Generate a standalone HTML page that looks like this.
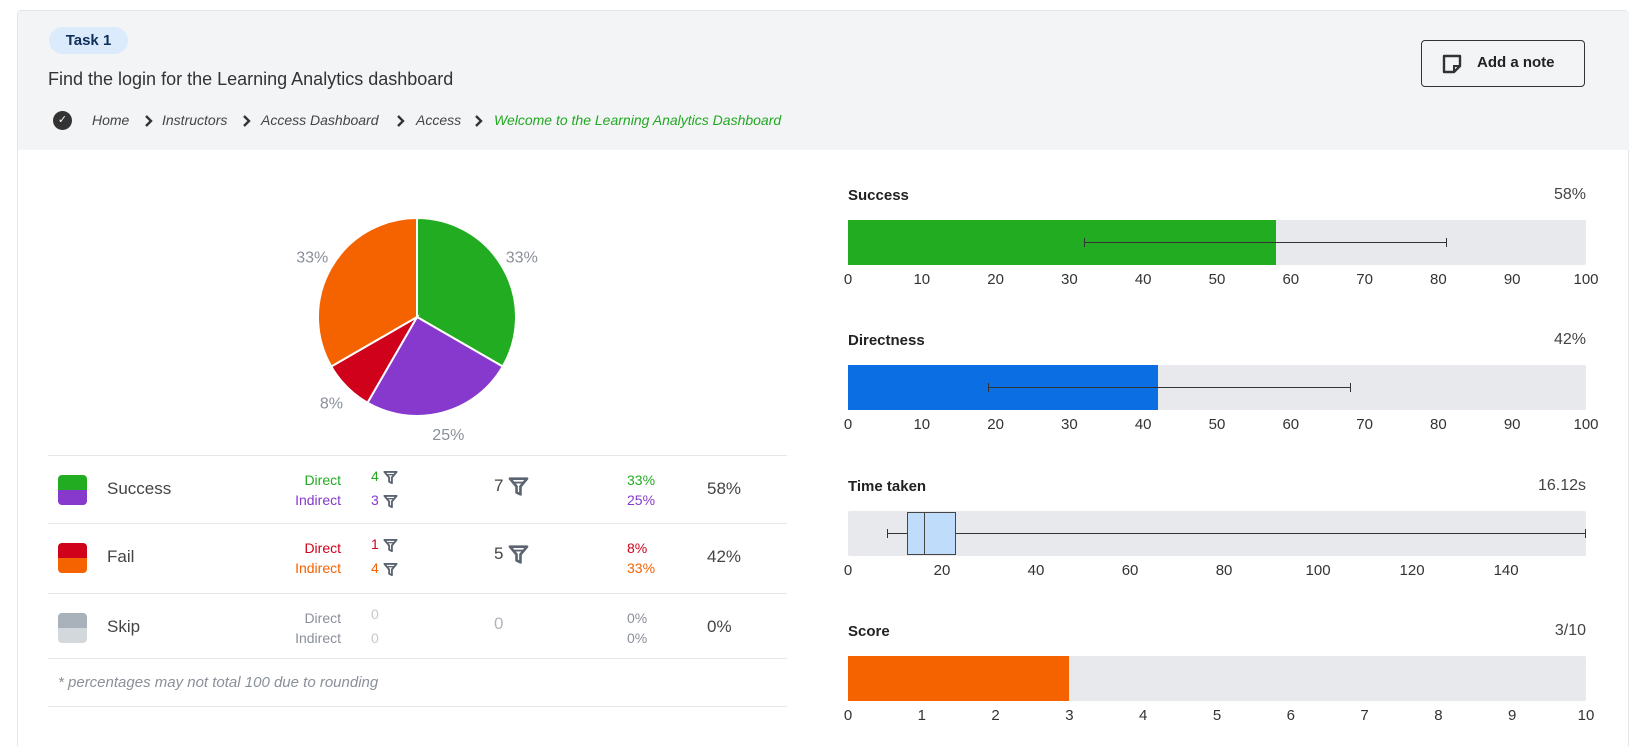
<!DOCTYPE html>
<html style="overflow:hidden;height:746px"><head><meta charset="utf-8"><style>
body{margin:0;width:1630px;height:746px;background:#fff;font-family:"Liberation Sans",sans-serif;color:#333;position:relative;overflow:hidden}
.abs{position:absolute}
#panel{left:17px;top:10px;width:1612px;height:736px;border:1px solid #e3e5e8;border-bottom:none;border-radius:4px 4px 0 0;box-sizing:border-box}
#hdr{left:18px;top:11px;width:1611px;height:139px;background:#f3f4f6}
.t{position:absolute;white-space:nowrap}
.bc{font-style:italic;font-size:14px;color:#444;top:112px}
.chev{top:114px}
.lbl{font-size:15px;font-weight:bold;color:#222}
.val{font-size:16px;color:#444}
.tick{font-size:15px;color:#333;transform:translateX(-50%)}
.line{position:absolute;left:48px;width:739px;height:1px;background:#e6e7ea}
.sm{font-size:14px}
</style></head><body>
<div class="abs" id="panel"></div>
<div class="abs" id="hdr"></div>
<div class="abs" style="left:49px;top:27px;width:79px;height:27px;border-radius:14px;background:#dcebfb;color:#0e2f5a;font-size:15px;font-weight:bold;line-height:27px;text-align:center">Task 1</div>
<div class="t" style="left:48px;top:69px;font-size:18px;color:#333">Find the login for the Learning Analytics dashboard</div>
<div class="abs" style="left:53px;top:111px;width:19px;height:19px;border-radius:50%;background:#333;color:#fff;font-size:11px;text-align:center;line-height:19px">✓</div>
<div class="t bc" style="left:92px">Home</div>
<svg class="abs chev" style="left:143px" width="10" height="14"><path d="M3 2l5 5-5 5" fill="none" stroke="#333" stroke-width="2.4"/></svg>
<div class="t bc" style="left:162px">Instructors</div>
<svg class="abs chev" style="left:241px" width="10" height="14"><path d="M3 2l5 5-5 5" fill="none" stroke="#333" stroke-width="2.4"/></svg>
<div class="t bc" style="left:261px">Access Dashboard</div>
<svg class="abs chev" style="left:395px" width="10" height="14"><path d="M3 2l5 5-5 5" fill="none" stroke="#333" stroke-width="2.4"/></svg>
<div class="t bc" style="left:416px">Access</div>
<svg class="abs chev" style="left:473px" width="10" height="14"><path d="M3 2l5 5-5 5" fill="none" stroke="#333" stroke-width="2.4"/></svg>
<div class="t bc" style="left:494px;color:#22a822">Welcome to the Learning Analytics Dashboard</div>
<div class="abs" style="left:1421px;top:40px;width:164px;height:47px;border:1px solid #333;border-radius:4px;box-sizing:border-box">
 <svg class="abs" style="left:20px;top:13px" width="20" height="20"><path d="M2 2h16v10l-6 6H2z" fill="none" stroke="#333" stroke-width="2.4" stroke-linejoin="round"/><path d="M12 18v-6h6" fill="none" stroke="#333" stroke-width="2"/></svg>
 <div class="t" style="left:55px;top:13px;font-size:15px;font-weight:bold;color:#222">Add a note</div>
</div>

<svg class="abs" id="pie" style="left:280px;top:195px" width="280" height="260"></svg>

<div class="line" style="top:455px"></div><div class="line" style="top:523px"></div><div class="line" style="top:593px"></div><div class="line" style="top:658px"></div><div class="line" style="top:706px"></div>
<div id="table"></div>
<div class="t" style="left:58px;top:674px;font-size:15px;font-style:italic;color:#8a9099">* percentages may not total 100 due to rounding</div>
<div id="metrics"></div>

<script>
// ---- pie data ----
const pieLabels=["Direct success","Indirect success","Direct fail","Indirect fail"];
const pieValues=[4,3,1,4];
const pieColors=["#22ac22","#8639cc","#d0021b","#f56200"];
const pieText=["33%","25%","8%","33%"];
const NS="http://www.w3.org/2000/svg";
(function(){
 const svg=document.getElementById('pie');const cx=137,cy=122,r=99;
 const tot=pieValues.reduce((a,b)=>a+b,0);let a0=-Math.PI/2;
 pieValues.forEach((v,i)=>{
  const a1=a0+v/tot*2*Math.PI;
  const p=document.createElementNS(NS,'path');
  const x0=cx+r*Math.cos(a0),y0=cy+r*Math.sin(a0),x1=cx+r*Math.cos(a1),y1=cy+r*Math.sin(a1);
  p.setAttribute('d',`M${cx},${cy}L${x0},${y0}A${r},${r} 0 ${a1-a0>Math.PI?1:0} 1 ${x1},${y1}Z`);
  p.setAttribute('fill',pieColors[i]);p.setAttribute('stroke','#fff');p.setAttribute('stroke-width','2');
  
  
  svg.appendChild(p);
  const am=(a0+a1)/2,lr=r+22;
  const t=document.createElementNS(NS,'text');
  t.setAttribute('x',cx+lr*Math.cos(am));t.setAttribute('y',cy+lr*Math.sin(am)+6);
  t.setAttribute('text-anchor','middle');t.setAttribute('font-size','16');t.setAttribute('fill','#8a9099');
  t.setAttribute('font-family','Liberation Sans');t.textContent=pieText[i];
  
  
  svg.appendChild(t);a0=a1;
 });
})();

// ---- table ----
const rowNames=["Success","Fail","Skip"];
const directCounts=[4,1,0], indirectCounts=[3,4,0];
const totals=[7,5,0];
const directPct=["33%","8%","0%"], indirectPct=["25%","33%","0%"], totalPct=["58%","42%","0%"];
const rowColors=[["#22ac22","#8639cc"],["#d0021b","#f56200"],["#a9b1ba","#d3d8dd"]];
const funnel=(s)=>`<svg width="${s}" height="${s}" viewBox="0 0 16 16" style="vertical-align:middle"><path d="M1.5 2h13l-5 6v6l-3-1.5V8z" fill="none" stroke="#5b6470" stroke-width="2" stroke-linejoin="round"/><path d="M4 5h8" stroke="#5b6470" stroke-width="1.4"/></svg>`;
(function(){
 const tb=document.getElementById('table');const tops=[455,523,593];let h='';
 rowNames.forEach((n,i)=>{
  const y=tops[i];const c=rowColors[i];const skip=i==2;
  const dc=skip?'#8a9099':c[0], ic=skip?'#8a9099':c[1];
  h+=`<div class="abs" style="left:58px;top:${y+20}px;width:29px;height:30px;border-radius:4px;overflow:hidden"><div style="height:15px;background:${c[0]}"></div><div style="height:15px;background:${c[1]}"></div></div>`;
  h+=`<div class="t" style="left:107px;top:${y+24}px;font-size:17px;color:#444">${n}</div>`;
  h+=`<div class="t sm" style="right:1289px;top:${y+17}px;color:${dc}">Direct</div>`;
  h+=`<div class="t sm" style="right:1289px;top:${y+37}px;color:${ic}">Indirect</div>`;
  h+=`<div class="t sm" style="left:371px;top:${y+13}px;color:${skip?'#c4c9ce':c[0]}">${directCounts[i]} ${skip?'':funnel(15)}</div>`;
  h+=`<div class="t sm" style="left:371px;top:${y+37}px;color:${skip?'#c4c9ce':c[1]}">${indirectCounts[i]} ${skip?'':funnel(15)}</div>`;
  h+=`<div class="t" style="left:494px;top:${y+21}px;font-size:17px;color:${skip?'#b0b5bb':'#444'}">${totals[i]} ${skip?'':funnel(21)}</div>`;
  h+=`<div class="t sm" style="left:627px;top:${y+17}px;color:${dc}">${directPct[i]}</div>`;
  h+=`<div class="t sm" style="left:627px;top:${y+37}px;color:${ic}">${indirectPct[i]}</div>`;
  h+=`<div class="t" style="left:707px;top:${y+24}px;font-size:17px;color:#444">${totalPct[i]}</div>`;
 });
 tb.innerHTML=h;
})();

// ---- metric bars ----
const metricNames=["Success","Directness","Time taken","Score"];
const metricValues=["58%","42%","16.12s","3/10"];
const successBar=[58], successErr=[32,81];
const directBar=[42], directErr=[19,68];
const timeBox=[8.3,12.6,16.1,23,157]; // min q1 median q3 max
const scoreBar=[3];
const pctTicks=[0,10,20,30,40,50,60,70,80,90,100];
const timeTicks=[0,20,40,60,80,100,120,140];
const scoreTicks=[0,1,2,3,4,5,6,7,8,9,10];
(function(){
 const m=document.getElementById('metrics');const L=848,R=1586,W=R-L;
 const tops=[195,340,486,631];let h='';
 const sx=(v,max)=>L+v/max*W;
 function header(i){
  h+=`<div class="t lbl" style="left:848px;top:${tops[i]-8}px">${metricNames[i]}</div>`;
  h+=`<div class="t val" style="right:44px;top:${tops[i]-9}px">${metricValues[i]}</div>`;
 }
 function track(i){h+=`<div class="abs" style="left:${L}px;top:${tops[i]+25}px;width:${W}px;height:45px;background:#e8e9ec;border-radius:2px"></div>`;}
 function ticks(i,arr,max){arr.forEach(t=>{h+=`<div class="t tick" style="left:${sx(t,max)}px;top:${tops[i]+76}px">${t}</div>`;});}
 function bar(i,v,max,col,name){h+=`<div class="abs" style="left:${L}px;top:${tops[i]+25}px;width:${sx(v,max)-L}px;height:45px;background:${col}"></div>`;}
 function err(i,e,max){const y=tops[i]+47,x0=sx(e[0],max),x1=sx(e[1],max);
  h+=`<div class="abs" style="left:${x0}px;top:${y}px;width:${x1-x0}px;height:1px;background:#333"></div>`;
  h+=`<div class="abs" style="left:${x0}px;top:${y-4}px;width:1px;height:9px;background:#333"></div><div class="abs" style="left:${x1}px;top:${y-4}px;width:1px;height:9px;background:#333"></div>`;}
 header(0);track(0);bar(0,successBar[0],100,'#22ac22','success-bar');err(0,successErr,100);ticks(0,pctTicks,100);
 header(1);track(1);bar(1,directBar[0],100,'#0b6ee3','directness-bar');err(1,directErr,100);ticks(1,pctTicks,100);
 header(2);track(2);const tm=157;const y=tops[2]+25;
 const [mn,q1,md,q3,mx]=timeBox.map(v=>sx(v,tm));
 h+=`<div class="abs" style="left:${mn}px;top:${y+22}px;width:${mx-mn}px;height:1px;background:#333"></div>`;
 h+=`<div class="abs" style="left:${mn}px;top:${y+18}px;width:1px;height:9px;background:#333"></div><div class="abs" style="left:${mx-1}px;top:${y+18}px;width:1px;height:9px;background:#333"></div>`;
 h+=`<div class="abs" style="left:${q1}px;top:${y+1}px;width:${q3-q1}px;height:43px;background:#bfdcfb;border:1px solid #444;box-sizing:border-box"></div>`;
 h+=`<div class="abs" style="left:${md}px;top:${y+1}px;width:1px;height:43px;background:#444"></div>`;
 ticks(2,timeTicks,tm);
 header(3);track(3);bar(3,scoreBar[0],10,'#f56200','score-bar');ticks(3,scoreTicks,10);
 m.innerHTML=h;
})();
</script>
</body></html>
